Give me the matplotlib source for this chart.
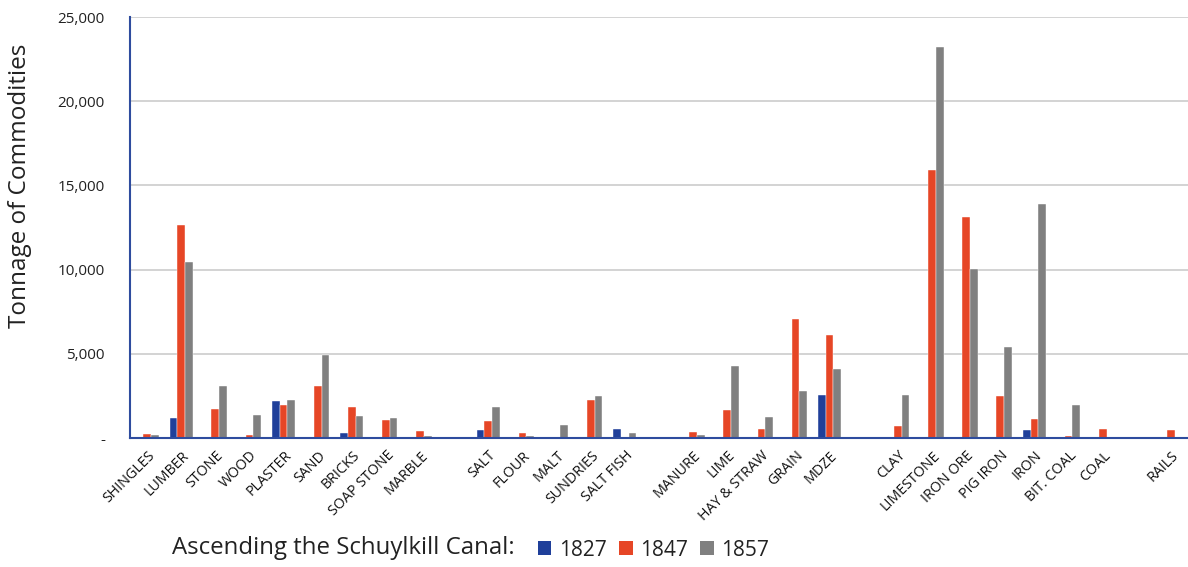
import matplotlib
matplotlib.use("Agg")
import matplotlib.pyplot as plt
import numpy as np
from matplotlib.ticker import FuncFormatter, MultipleLocator
from matplotlib.patches import Patch

plt.rcParams['font.family'] = ['Open Sans', 'DejaVu Sans']

categories = ["SHINGLES", "LUMBER", "STONE", "WOOD", "PLASTER", "SAND", "BRICKS",
              "SOAP STONE", "MARBLE", "", "SALT", "FLOUR", "MALT", "SUNDRIES",
              "SALT FISH", "", "MANURE", "LIME", "HAY & STRAW", "GRAIN", "MDZE", "",
              "CLAY", "LIMESTONE", "IRON ORE", "PIG IRON", "IRON", "BIT. COAL",
              "COAL", "", "RAILS"]

y1827 = [0, 1190, 0, 0, 2200, 0, 280, 0, 0, 0, 480, 0, 0, 0, 560, 0,
         0, 0, 0, 0, 2530, 0, 0, 0, 0, 0, 460, 0, 0, 0, 0]
y1847 = [210, 12650, 1740, 200, 1980, 3110, 1830, 1050, 400, 0, 1030, 320, 0, 2260, 0, 0,
         360, 1640, 560, 7090, 6110, 0, 690, 15900, 13100, 2490, 1150, 100, 530, 0, 460]
y1857 = [190, 10480, 3100, 1380, 2230, 4940, 1290, 1170, 140, 0, 1830, 100, 790, 2490, 300, 0,
         160, 4290, 1230, 2790, 4110, 0, 2530, 23190, 10040, 5400, 13880, 1940, 0, 0, 50]

years = ["1827", "1847", "1857"]
colors = ["#1F3F9A", "#E64626", "#808080"]

fig = plt.figure(figsize=(11.88, 5.67), dpi=100)
ax = fig.add_axes([0.1094, 0.2275, 0.8906, 0.7425])

x = np.arange(len(categories))
w = 0.225
for i, (vals, c) in enumerate(zip([y1827, y1847, y1857], colors)):
    ax.bar(x + (i - 1) * w, vals, width=w, color=c, edgecolor='white', linewidth=0.3, zorder=3)

ax.set_xlim(-0.5, len(categories) - 0.5)
ax.set_ylim(0, 25000)
ax.yaxis.set_major_locator(MultipleLocator(5000))
ax.yaxis.set_major_formatter(FuncFormatter(lambda v, p: "-" if v == 0 else f"{int(v):,}"))
ax.grid(axis='y', color='#D0D0D0', linewidth=1.3, zorder=0)
ax.set_axisbelow(True)
for s in ['top', 'right']:
    ax.spines[s].set_visible(False)
for s in ['left', 'bottom']:
    ax.spines[s].set_color('#2E4C9E')
    ax.spines[s].set_linewidth(1.5)
    ax.spines[s].set_zorder(4)
ax.tick_params(axis='y', length=0, labelsize=11, colors='#222222', pad=18)
ax.tick_params(axis='x', length=0)
ax.set_xticks(x)
ax.set_xticklabels([])
for xi, lab in zip(x, categories):
    if lab:
        ax.annotate(lab, xy=(xi, 0), xycoords=('data', 'axes fraction'),
                    xytext=(4, -11), textcoords='offset points',
                    rotation=45, ha='right', va='center', rotation_mode='anchor',
                    fontsize=10.3, color='#111111')

ax.set_ylabel("Tonnage of Commodities", fontsize=17.5, color='#222222')
ax.yaxis.set_label_coords(-0.093, 0.60)

fig.text(0.145, 0.012, "Ascending the Schuylkill Canal:", fontsize=17.3, color='#222222',
         ha='left', va='bottom')
handles = [Patch(facecolor=c, edgecolor='none') for c in colors]
fig.legend(handles, years, loc='lower left', bbox_to_anchor=(0.437, -0.022), ncol=3,
           frameon=False, fontsize=15, handlelength=0.65, handleheight=0.65,
           handletextpad=0.35, columnspacing=0.6, labelcolor='#222222')

fig.savefig("out.png", dpi=100)
